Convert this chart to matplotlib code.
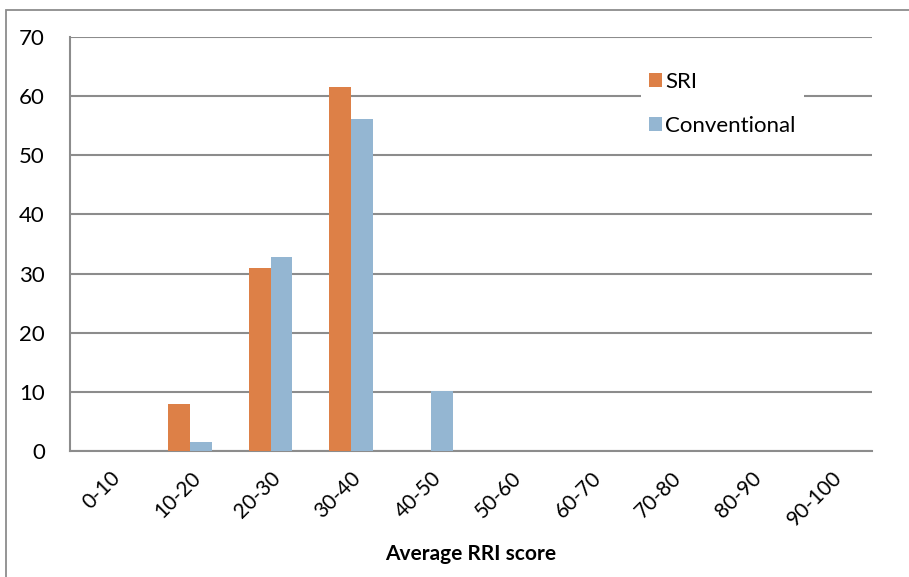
import matplotlib
matplotlib.use("Agg")
import matplotlib.pyplot as plt
from matplotlib.patches import Rectangle
import numpy as np

categories = ["0-10", "10-20", "20-30", "30-40", "40-50",
              "50-60", "60-70", "70-80", "80-90", "90-100"]
sri = [0, 7.9, 30.9, 61.5, 0, 0, 0, 0, 0, 0]
conventional = [0, 1.5, 32.8, 56.1, 10.1, 0, 0, 0, 0, 0]
yticks = [0, 10, 20, 30, 40, 50, 60, 70]

ORANGE = "#dd8047"
BLUE = "#94b6d2"
GRID = "#8c8c8c"

plt.rcParams["font.family"] = ["Lato", "DejaVu Sans"]

fig = plt.figure(figsize=(9.09, 5.77), dpi=100)
fig.patch.set_facecolor("white")

# outer chart frame
fig.patches.append(Rectangle((6 / 909, -0.1), 1.2, (577 - 10) / 577 + 0.1,
                             transform=fig.transFigure, fill=False,
                             edgecolor="#8c8c8c", linewidth=1.3))

ax = fig.add_axes([70 / 909, 1 - 451 / 577, 802 / 909, 414 / 577])

x = np.arange(len(categories))
w = 0.274
ax.bar(x - w / 2, sri, w, color=ORANGE, label="SRI", zorder=3)
ax.bar(x + w / 2, conventional, w, color=BLUE, label="Conventional", zorder=3)

ax.set_xlim(-0.5, 9.5)
ax.set_ylim(0, 70)
ax.set_yticks(yticks)
ax.yaxis.grid(True, color=GRID, linewidth=1.5)
ax.set_axisbelow(True)
for s in ["top", "right"]:
    ax.spines[s].set_visible(False)
ax.spines["left"].set_color(GRID)
ax.spines["left"].set_linewidth(1.5)
ax.spines["bottom"].set_color(GRID)
ax.spines["bottom"].set_linewidth(1.5)
ax.tick_params(length=0)
ax.tick_params(axis="y", labelsize=16, pad=18)

ax.set_xticks(x)
ax.set_xticklabels(categories, rotation=45, ha="right",
                   rotation_mode="anchor", fontsize=15)
ax.tick_params(axis="x", pad=12)
ax.set_xlabel("Average RRI score", fontsize=15, fontweight="bold", labelpad=10)

leg = ax.legend(loc="upper left", bbox_to_anchor=(0.712, 0.935),
                frameon=True, fontsize=16, handlelength=0.6,
                handleheight=0.6, handletextpad=0.15, labelspacing=1.1,
                borderpad=0.35, borderaxespad=0)
leg.get_frame().set_facecolor("white")
leg.get_frame().set_edgecolor("none")
leg.get_frame().set_alpha(1)
leg.set_zorder(5)

fig.savefig("out.png", dpi=100, facecolor="white")
